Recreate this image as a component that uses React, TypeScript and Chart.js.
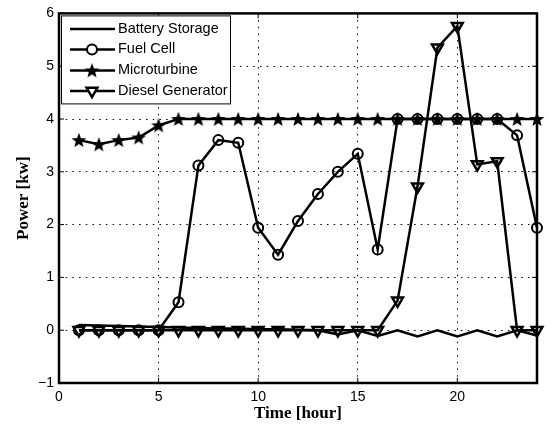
import React, { useEffect, useRef } from "react";
import { Chart, registerables } from "chart.js";

Chart.register(...registerables);

const hours = [1, 2, 3, 4, 5, 6, 7, 8, 9, 10, 11, 12, 13, 14, 15, 16, 17, 18, 19, 20, 21, 22, 23, 24];
const batteryStorage = [0.1, 0.09, 0.08, 0.07, 0.06, 0.05, 0.04, 0.03, 0.03, 0.02, 0.02, 0.01, 0.0, -0.08, 0.0, -0.11, 0.0, -0.12, 0.0, -0.12, 0.0, -0.12, 0.0, -0.1];
const fuelCell = [0, 0, 0, 0, 0, 0.53, 3.12, 3.6, 3.55, 1.94, 1.43, 2.07, 2.58, 3.0, 3.34, 1.53, 4, 4, 4, 4, 4, 4, 3.69, 1.94];
const microturbine = [3.6, 3.52, 3.6, 3.65, 3.88, 4, 4, 4, 4, 4, 4, 4, 4, 4, 4, 4, 4, 4, 4, 4, 4, 4, 4, 4];
const dieselGenerator = [0, 0, 0, 0, 0, 0, 0, 0, 0, 0, 0, 0, 0, 0, 0, 0, 0.56, 2.72, 5.35, 5.76, 3.14, 3.2, 0, 0];
const seriesNames = ["Battery Storage", "Fuel Cell", "Microturbine", "Diesel Generator"];
const xTicks = [0, 5, 10, 15, 20];
const yTicks = [-1, 0, 1, 2, 3, 4, 5, 6];
const xTitle = "Time [hour]";
const yTitle = "Power [kw]";

function makeStar(): HTMLCanvasElement {
  const c = document.createElement("canvas");
  const s = 18;
  c.width = s;
  c.height = s;
  const g = c.getContext("2d")!;
  const cx = s / 2, cy = s / 2 + 0.6, ro = 7.8, ri = 3.3;
  g.beginPath();
  for (let i = 0; i < 10; i++) {
    const r = i % 2 === 0 ? ro : ri;
    const a = -Math.PI / 2 + (i * Math.PI) / 5;
    const px = cx + r * Math.cos(a), py = cy + r * Math.sin(a);
    if (i === 0) g.moveTo(px, py);
    else g.lineTo(px, py);
  }
  g.closePath();
  g.fillStyle = "#000";
  g.fill();
  return c;
}

export default function App() {
  const ref = useRef<HTMLCanvasElement | null>(null);
  useEffect(() => {
    if (!ref.current) return;
    const star = makeStar();
    const series = [batteryStorage, fuelCell, microturbine, dieselGenerator];
    const toPts = (arr: number[]) => hours.map((h, i) => ({ x: h, y: arr[i] }));
    const LW = 2.5;
    const TRI_R = 6.2;
    const tickFont = { family: '"Liberation Sans", Arial, sans-serif', size: 14 };
    const titleFont = { family: '"Liberation Serif", "Times New Roman", serif', size: 17, weight: "bold" as const };

    const framePlugin = {
      id: "frame",
      afterDraw(chart: any) {
        const { ctx, chartArea } = chart;
        const { left, right, top, bottom } = chartArea;
        const xs = chart.scales.x, ys = chart.scales.y;
        ctx.save();
        ctx.strokeStyle = "#000";
        ctx.lineWidth = 1;
        ctx.setLineDash([]);
        const L = 5;
        xTicks.forEach((v) => {
          const px = xs.getPixelForValue(v);
          ctx.beginPath();
          ctx.moveTo(px, bottom); ctx.lineTo(px, bottom - L);
          ctx.moveTo(px, top); ctx.lineTo(px, top + L);
          ctx.stroke();
        });
        yTicks.forEach((v) => {
          const py = ys.getPixelForValue(v);
          ctx.beginPath();
          ctx.moveTo(left, py); ctx.lineTo(left + L, py);
          ctx.moveTo(right, py); ctx.lineTo(right - L, py);
          ctx.stroke();
        });
        ctx.lineWidth = 2.5;
        ctx.strokeRect(left, top, right - left, bottom - top);

        // legend
        const bx = left + 2, by = top + 2, bw = 169, bh = 88;
        ctx.fillStyle = "#fff";
        ctx.fillRect(bx, by, bw, bh);
        ctx.lineWidth = 1;
        ctx.strokeRect(bx + 0.5, by + 0.5, bw, bh);
        const rows = [15.5, 36, 57, 77.5];
        ctx.font = '14.5px "Liberation Sans", Arial, sans-serif';
        ctx.textBaseline = "middle";
        rows.forEach((ry, i) => {
          const yy = top + ry;
          ctx.strokeStyle = "#000";
          ctx.lineWidth = LW;
          ctx.beginPath();
          ctx.moveTo(left + 11, yy);
          ctx.lineTo(left + 56, yy);
          ctx.stroke();
          const mx = left + 33;
          if (i === 1) {
            ctx.lineWidth = 2;
            ctx.beginPath();
            ctx.arc(mx, yy, 5, 0, Math.PI * 2);
            ctx.fillStyle = "#fff";
            ctx.fill();
            ctx.stroke();
          } else if (i === 2) {
            ctx.drawImage(star, mx - star.width / 2, yy - star.height / 2);
          } else if (i === 3) {
            const r = TRI_R;
            ctx.lineWidth = 2.5;
            ctx.beginPath();
            ctx.moveTo(mx, yy + r);
            ctx.lineTo(mx - r * 0.866, yy - r * 0.5);
            ctx.lineTo(mx + r * 0.866, yy - r * 0.5);
            ctx.closePath();
            ctx.fillStyle = "#fff";
            ctx.fill();
            ctx.stroke();
          }
          ctx.fillStyle = "#000";
          ctx.fillText(seriesNames[i], left + 59, yy);
        });
        ctx.restore();
      },
    };

    const chart = new Chart(ref.current, {
      type: "line",
      data: {
        datasets: [
          {
            label: seriesNames[0],
            data: toPts(series[0]),
            borderColor: "#000",
            borderWidth: LW,
            pointRadius: 0,
            clip: false as any,
          },
          {
            label: seriesNames[1],
            data: toPts(series[1]),
            borderColor: "#000",
            borderWidth: LW,
            pointStyle: "circle",
            pointRadius: 5,
            pointBorderWidth: 2,
            pointBorderColor: "#000",
            pointBackgroundColor: "rgba(255,255,255,0)",
            clip: false as any,
          },
          {
            label: seriesNames[2],
            data: toPts(series[2]),
            borderColor: "#000",
            borderWidth: LW,
            pointStyle: star as any,
            pointRadius: 8,
            clip: false as any,
          },
          {
            label: seriesNames[3],
            data: toPts(series[3]),
            borderColor: "#000",
            borderWidth: LW,
            pointStyle: "triangle",
            rotation: 180,
            pointRadius: TRI_R,
            pointBorderWidth: 2.5,
            pointBorderColor: "#000",
            pointBackgroundColor: "rgba(255,255,255,0)",
            clip: false as any,
          },
        ],
      },
      options: {
        responsive: false,
        animation: false,
        layout: { padding: { top: 7, right: 12, left: 0, bottom: 0 } },
        plugins: { legend: { display: false }, tooltip: { enabled: false } },
        scales: {
          x: {
            type: "linear",
            min: 0,
            max: 24,
            afterBuildTicks: (s: any) => {
              s.ticks = xTicks.map((v) => ({ value: v }));
            },
            afterFit: (s: any) => {
              s.height = 47;
            },
            grid: { color: "#000", lineWidth: 1, drawTicks: false },
            border: { display: false, dash: [1.5, 5.2] },
            ticks: { color: "#000", font: tickFont, padding: 6, maxRotation: 0 },
            title: { display: true, text: xTitle, color: "#000", font: titleFont, padding: { top: 0, bottom: 6 } },
          },
          y: {
            type: "linear",
            min: -1,
            max: 6,
            afterBuildTicks: (s: any) => {
              s.ticks = yTicks.map((v) => ({ value: v }));
            },
            afterFit: (s: any) => {
              s.width = 59;
            },
            grid: { color: "#000", lineWidth: 1, drawTicks: false },
            border: { display: false, dash: [1.5, 5.2] },
            ticks: {
              color: "#000",
              font: tickFont,
              padding: 5,
              callback: (v: any) => (Number(v) < 0 ? "\u2212" + Math.abs(Number(v)) : String(v)),
            },
            title: { display: true, text: yTitle, color: "#000", font: titleFont, padding: { top: 13, bottom: 0 } },
          },
        },
      },
      plugins: [framePlugin],
    });
    return () => chart.destroy();
  }, []);

  return (
    <div style={{ position: "absolute", left: 0, top: 0, width: 549, height: 430, background: "#fff" }}>
      <canvas ref={ref} width={549} height={430} style={{ display: "block" }} />
    </div>
  );
}
